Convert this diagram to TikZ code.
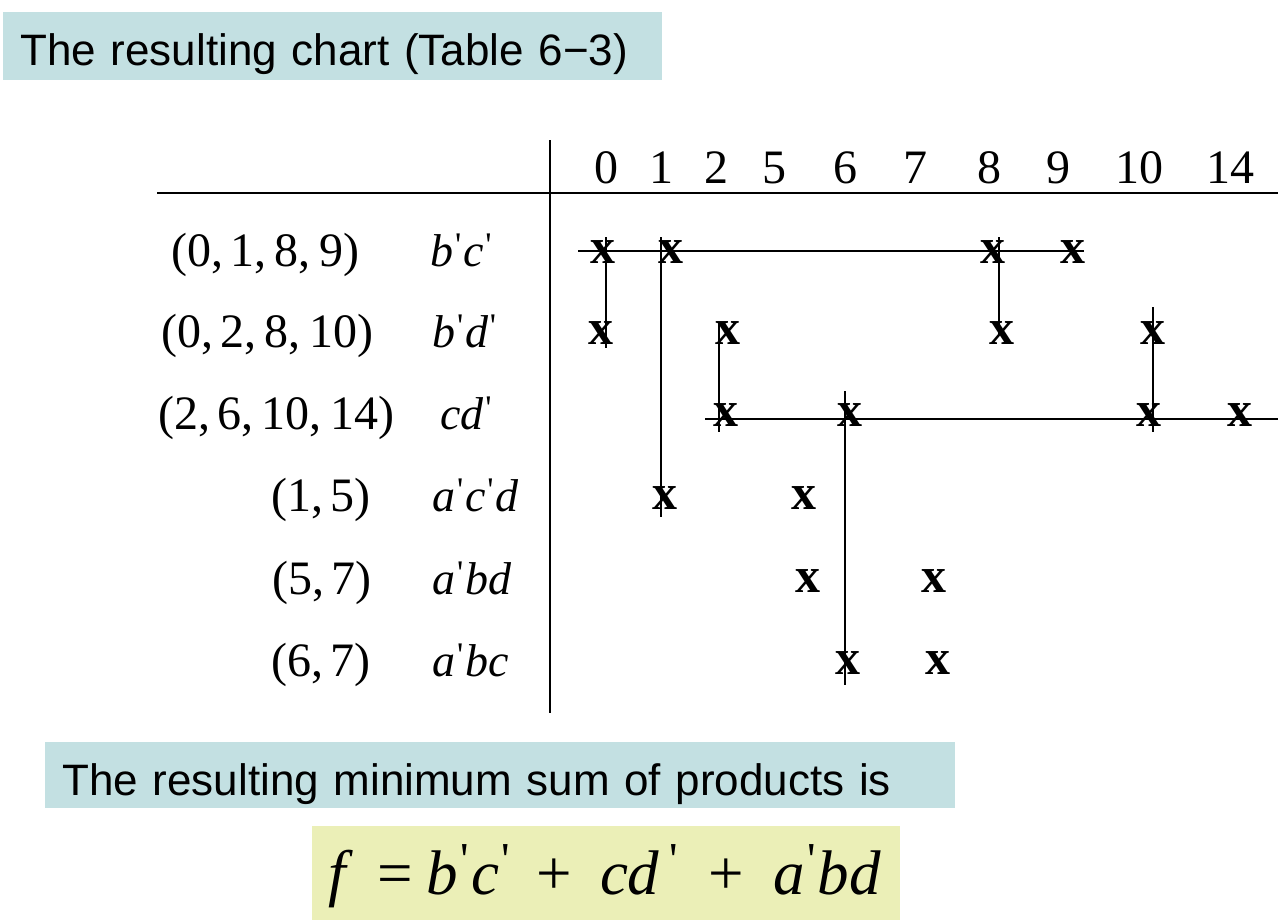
\documentclass[tikz,border=0pt]{standalone}
\usepackage{fontspec}
\usepackage{graphicx}
\setmainfont{Liberation Serif}
\newfontfamily\gul{Liberation Sans}
\definecolor{bandteal}{HTML}{C3E0E2}
\definecolor{bandyellow}{HTML}{EBEFB7}
\newcommand\pr{\kern0.04em\raisebox{0.2em}{\scalebox{0.75}{\upshape\textquotesingle}}\kern0.04em}
\newcommand\ftick{\raisebox{0.3em}{\scalebox{0.75}{\upshape\textquotesingle}}}
\begin{document}
\begin{tikzpicture}[x=1pt,y=-1pt,
  band/.style={fill=bandteal,draw=none,anchor=north west,inner xsep=17pt,align=left,font=\gul\fontsize{44}{44}\selectfont},
  hd/.style={anchor=base,inner sep=0pt,font=\fontsize{48}{48}\selectfont},
  lab/.style={anchor=base,inner sep=0pt,font=\fontsize{48}{48}\selectfont},
  term/.style={anchor=base west,inner sep=0pt,font=\fontsize{46}{46}\selectfont\itshape},
  mk/.style={inner sep=0pt,font=\fontsize{50}{50}\selectfont\bfseries},
  ln/.style={line width=1.6pt},
  rule/.style={line width=1.4pt}]
\useasboundingbox (0,0) rectangle (1284,922);

% title band
\node[band,text width=625pt,text height=44pt,text depth=6pt,inner ysep=9pt] (title) at (3,12) {The resulting chart (Table 6−3)};

% table rules
\coordinate (hl) at (157,193); \coordinate (hr) at (1278,193);
\coordinate (vt) at (550,140); \coordinate (vb) at (550,713);
\draw[rule] (hl) -- (hr);
\draw[rule] (vt) -- (vb);

% header
\node[hd] (h0) at (606,183) {0};
\node[hd] (h1) at (661,183) {1};
\node[hd] (h2) at (716,183) {2};
\node[hd] (h5) at (774,183) {5};
\node[hd] (h6) at (845,183) {6};
\node[hd] (h7) at (915,183) {7};
\node[hd] (h8) at (989,183) {8};
\node[hd] (h9) at (1058,183) {9};
\node[hd] (h10) at (1139,183) {10};
\node[hd] (h14) at (1230,183) {14};

% row labels
\node[lab] (l1) at (265,266) {(0,\,1,\,8,\,9)};
\node[lab] (l2) at (267,347) {(0,\,2,\,8,\,10)};
\node[lab] (l3) at (276,429) {(2,\,6,\,10,\,14)};
\node[lab] (l4) at (321,511) {(1,\,5)};
\node[lab] (l5) at (322,594) {(5,\,7)};
\node[lab] (l6) at (321,676) {(6,\,7)};

% terms
\node[term] (t1) at (430,266) {b\pr c\pr};
\node[term] (t2) at (432,347) {b\pr d\pr};
\node[term] (t3) at (440,429) {cd\pr};
\node[term] (t4) at (432,511) {a\pr c\pr d};
\node[term] (t5) at (432,594) {a\pr bd};
\node[term] (t6) at (432,676) {a\pr bc};

% x marks
\node[mk] (r1c0) at (603,252) {x};
\node[mk] (r1c1) at (671,252) {x};
\node[mk] (r1c8) at (993,252) {x};
\node[mk] (r1c9) at (1073,252) {x};
\node[mk] (r2c0) at (601,333) {x};
\node[mk] (r2c2) at (728,333) {x};
\node[mk] (r2c8) at (1002,333) {x};
\node[mk] (r2c10) at (1153,333) {x};
\node[mk] (r3c2) at (726,415) {x};
\node[mk] (r3c6) at (850,415) {x};
\node[mk] (r3c10) at (1149,415) {x};
\node[mk] (r3c14) at (1240,415) {x};
\node[mk] (r4c1) at (665,498) {x};
\node[mk] (r4c5) at (804,498) {x};
\node[mk] (r5c5) at (808,581) {x};
\node[mk] (r5c7) at (934,581) {x};
\node[mk] (r6c6) at (848,663) {x};
\node[mk] (r6c7) at (938,663) {x};

% covering lines
\coordinate (a1) at (578,251); \coordinate (a2) at (1084,251);
\coordinate (b1) at (705,419); \coordinate (b2) at (1278,419);
\coordinate (c0t) at (606,237); \coordinate (c0b) at (606,348);
\coordinate (c1t) at (661,237); \coordinate (c1b) at (661,517);
\coordinate (c8t) at (999,237); \coordinate (c8b) at (999,335);
\coordinate (c2t) at (719,322); \coordinate (c2b) at (719,432);
\coordinate (c10t) at (1153,307); \coordinate (c10b) at (1153,432);
\coordinate (c6t) at (845,391); \coordinate (c6b) at (845,685);
\draw[ln] (a1) -- (a2);
\draw[ln] (b1) -- (b2);
\draw[ln] (c0t) -- (c0b);
\draw[ln] (c1t) -- (c1b);
\draw[ln] (c8t) -- (c8b);
\draw[ln] (c2t) -- (c2b);
\draw[ln] (c10t) -- (c10b);
\draw[ln] (c6t) -- (c6b);

% result band
\node[band,text width=876pt,text height=45pt,text depth=5pt,inner ysep=8pt] (res) at (45,742) {The resulting minimum sum of products is};

% formula
\node[fill=bandyellow,anchor=north west,minimum width=588pt,minimum height=94pt,inner sep=0pt] (fbox) at (312,826) {};
\node[anchor=base west,inner sep=0pt,font=\fontsize{63}{63}\selectfont] (f) at (328,894)
  {\textit{f}\kern25pt=\kern13pt\textit{b}\kern2.5pt\ftick\kern2.5pt\textit{c}\kern2.5pt\ftick\kern26pt+\kern28pt\textit{cd}\kern10pt\ftick\kern30pt+\kern30pt\textit{a}\kern2pt\ftick\kern2pt\textit{bd}};
\end{tikzpicture}
\end{document}
